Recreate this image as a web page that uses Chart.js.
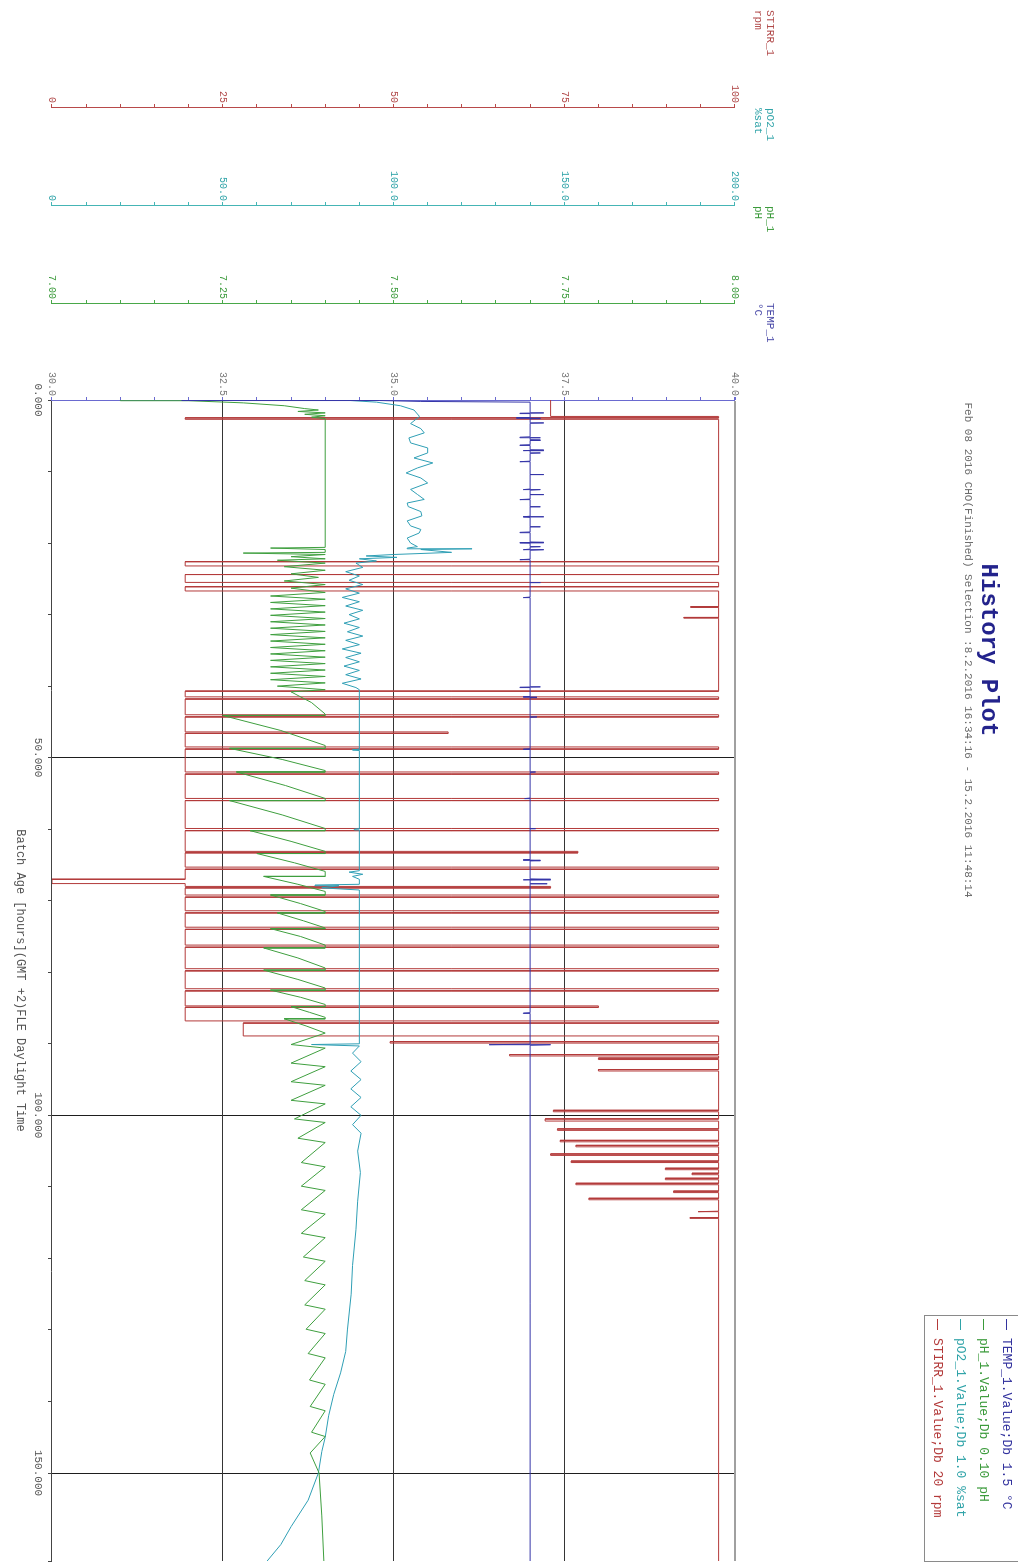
<!DOCTYPE html>
<html>
<head>
<meta charset="utf-8">
<title>History Plot</title>
<script src="https://cdn.jsdelivr.net/npm/chart.js@4.4.1/dist/chart.umd.min.js"></script>
<style>
  html, body { margin: 0; padding: 0; background: #fff; overflow: hidden; }
  /* chart is drawn landscape, then turned a quarter clockwise like the scan */
  #page {
    position: absolute; left: 0; top: 0;
    width: 1564px; height: 1018px;
    transform-origin: 0 0;
    transform: translateX(1018px) rotate(90deg);
    font-family: "Liberation Mono", "DejaVu Sans Mono", monospace;
    background: #fff;
  }
  #chart { position: absolute; left: 0; top: 0; }
  .title { position: absolute; left: 395px; width: 510px; text-align: center; white-space: nowrap; }
  #mainTitle { top: 16px; font-size: 24px; font-weight: bold; color: #23238c; }
  #subTitle { top: 44px; font-size: 11px; color: #6a6a6a; }
  .axname { position: absolute; top: 242px; font-size: 11px; line-height: 12px; white-space: nowrap; }
  #legend {
    position: absolute; left: 1315px; top: -1px; width: 247px; height: 95px;
    border: 1px solid #8a8a8a; font-size: 13px; box-sizing: border-box;
  }
  #legend div { height: 23px; line-height: 23px; white-space: nowrap; padding-left: 3px; }
  #legend span.dash { display: inline-block; width: 11px; height: 1px; vertical-align: middle; margin-right: 8px; }
</style>
</head>
<body>
<div id="page">
  <canvas id="chart" width="1564" height="1018"></canvas>
  <div class="title" id="mainTitle">History Plot</div>
  <div class="title" id="subTitle">Feb 08 2016 CHO(Finished) Selection :8.2.2016 16:34:16 - 15.2.2016 11:48:14</div>
  <div class="axname" style="left:10px;color:#b04848">STIRR_1<br>rpm</div>
  <div class="axname" style="left:108px;color:#2fa3a8">pO2_1<br>%sat</div>
  <div class="axname" style="left:206px;color:#3a9a3a">pH_1<br>pH</div>
  <div class="axname" style="left:303px;color:#4a4aa8">TEMP_1<br>°C</div>
  <div id="legend"></div>
</div>
<script>
// hours since batch start, value in the series unit
const tempPoints = [
  [0, 31.9], [0.05, 32.3], [0.1, 34.8], [0.2, 35.4], [0.3, 37.0],
  [1.75, 37.0], [1.8, 37.2], [1.85, 36.85], [1.9, 37.0],
  [2.45, 37.0], [2.5, 36.8], [2.55, 37.15], [2.6, 37.0],
  [3.15, 37.0], [3.2, 37.2], [3.25, 37.0],
  [5.15, 37.0], [5.2, 36.85], [5.25, 37.15], [5.3, 37.0],
  [5.55, 37.0], [5.6, 37.15], [5.65, 37.0],
  [6.25, 37.0], [6.3, 36.85], [6.35, 37.0],
  [6.95, 37.0], [7.0, 37.2], [7.05, 36.9], [7.1, 37.0],
  [7.35, 37.0], [7.4, 37.15], [7.45, 37.0],
  [8.55, 37.0], [8.6, 36.85], [8.65, 37.0],
  [10.35, 37.0], [10.4, 37.2], [10.45, 37.0],
  [12.45, 37.0], [12.5, 36.9], [12.55, 37.15], [12.6, 37.0],
  [13.15, 37.0], [13.2, 37.2], [13.25, 37.0],
  [13.85, 37.0], [13.9, 36.85], [13.95, 37.0],
  [14.85, 37.0], [14.9, 37.15], [14.95, 37.0],
  [16.25, 37.0], [16.3, 37.2], [16.35, 36.9], [16.4, 37.0],
  [17.65, 37.0], [17.7, 37.15], [17.75, 37.0],
  [18.45, 37.0], [18.5, 36.85], [18.55, 37.0],
  [19.85, 37.0], [19.9, 37.2], [19.95, 36.85], [20.0, 37.0],
  [20.45, 37.0], [20.5, 37.15], [20.55, 37.0],
  [20.85, 37.0], [20.9, 36.9], [20.95, 37.2], [21.0, 37.0],
  [22.25, 37.0], [22.3, 36.85], [22.35, 37.0],
  [25.45, 37.0], [25.5, 37.15], [25.55, 37.0],
  [27.55, 37.0], [27.6, 36.9], [27.65, 37.0],
  [40.05, 37.0], [40.1, 37.15], [40.15, 36.85], [40.2, 37.0],
  [41.45, 37.0], [41.5, 36.9], [41.55, 37.1], [41.6, 37.0],
  [44.25, 37.0], [44.3, 37.1], [44.35, 37.0],
  [48.75, 37.0], [48.8, 36.9], [48.85, 37.0],
  [51.95, 37.0], [52.0, 37.08], [52.05, 37.0],
  [55.65, 37.0], [55.7, 36.92], [55.75, 37.0],
  [59.85, 37.0], [59.9, 37.08], [59.95, 37.0],
  [64.25, 37.0], [64.3, 36.9], [64.35, 37.15], [64.4, 37.0],
  [66.95, 37.0], [67.0, 37.3], [67.05, 36.9], [67.1, 37.0],
  [67.55, 37.0], [67.6, 37.25], [67.65, 37.0],
  [85.65, 37.0], [85.7, 36.9], [85.75, 37.0],
  [90.05, 37.0], [90.1, 36.4], [90.15, 37.3], [90.2, 37.0],
  [162.3, 37.0]
];

const phPoints = [
  [0, 7.10], [0.1, 7.20], [0.4, 7.28], [0.8, 7.34], [1.2, 7.37], [1.4, 7.39], [1.6, 7.36],
  [1.8, 7.40], [2.0, 7.37], [2.2, 7.40], [2.4, 7.38], [2.6, 7.40],
  [20.6, 7.40], [20.7, 7.32], [20.9, 7.40], [21.3, 7.40], [21.4, 7.28], [21.6, 7.40],
  [21.9, 7.35], [22.2, 7.40], [22.4, 7.33], [22.8, 7.40], [23.3, 7.34], [23.8, 7.40],
  [24.3, 7.35], [24.8, 7.39], [25.3, 7.34], [25.8, 7.40], [26.3, 7.35], [26.9, 7.40],
  [27.4, 7.32], [27.85, 7.40], [28.3, 7.32], [28.75, 7.40], [29.2, 7.32], [29.65, 7.40],
  [30.1, 7.32], [30.55, 7.40], [31.0, 7.32], [31.45, 7.40], [31.9, 7.32], [32.35, 7.40],
  [32.8, 7.32], [33.25, 7.40], [33.7, 7.32], [34.15, 7.40], [34.6, 7.32], [35.05, 7.40],
  [35.5, 7.32], [35.95, 7.40], [36.4, 7.32], [36.85, 7.40], [37.3, 7.32], [37.75, 7.40],
  [38.2, 7.32], [38.65, 7.40], [39.1, 7.32], [39.55, 7.40], [40.0, 7.33], [40.5, 7.40],
  [40.8, 7.35], [42.3, 7.38], [43.9, 7.40],
  [44.1, 7.40], [44.1, 7.25], [46.2, 7.335], [48.3, 7.40],
  [48.7, 7.40], [48.7, 7.26], [50.25, 7.337], [51.8, 7.40],
  [52.0, 7.40], [52.0, 7.27], [53.9, 7.342], [55.7, 7.40],
  [56.0, 7.40], [56.0, 7.26], [58.0, 7.337], [59.9, 7.40],
  [60.2, 7.40], [60.2, 7.29], [61.7, 7.35], [63.1, 7.40],
  [63.4, 7.40], [63.4, 7.30], [64.7, 7.355], [65.9, 7.40],
  [66.6, 7.40], [66.6, 7.31], [67.7, 7.36], [68.7, 7.40],
  [69.2, 7.40], [69.2, 7.32], [70.4, 7.364], [71.5, 7.40],
  [71.7, 7.40], [71.7, 7.33], [72.8, 7.368], [73.8, 7.40],
  [73.9, 7.40], [73.9, 7.32], [75.0, 7.364], [76.2, 7.40],
  [76.6, 7.40], [76.6, 7.31], [78.0, 7.36], [79.4, 7.40],
  [79.7, 7.40], [79.7, 7.31], [81.0, 7.36], [82.2, 7.40],
  [82.5, 7.40], [82.5, 7.32], [83.5, 7.364], [84.5, 7.40],
  [84.8, 7.40], [84.8, 7.35], [85.6, 7.377], [86.3, 7.40],
  [86.5, 7.40], [86.5, 7.34], [87.5, 7.372], [88.5, 7.40],
  [90.1, 7.35], [90.6, 7.40], [92.7, 7.35], [93.2, 7.40], [95.3, 7.35], [95.8, 7.40],
  [97.9, 7.35], [98.4, 7.40], [100.5, 7.355], [101.0, 7.40], [103.2, 7.36], [103.8, 7.40],
  [106.6, 7.365], [107.2, 7.40], [109.9, 7.365], [110.5, 7.40], [113.2, 7.365], [113.8, 7.40],
  [116.5, 7.365], [117.1, 7.40], [119.8, 7.368], [120.4, 7.40], [123.1, 7.37], [123.7, 7.40],
  [126.5, 7.37], [127.1, 7.40], [129.9, 7.372], [130.5, 7.40], [133.3, 7.375], [133.9, 7.40],
  [137.0, 7.377], [137.6, 7.40], [140.7, 7.378], [141.3, 7.40], [144.3, 7.38], [144.9, 7.40],
  [147.2, 7.378], [150.0, 7.391], [156.0, 7.395], [162.3, 7.398]
];

const po2Points = [
  [0, 85], [0.3, 95], [0.8, 102], [1.4, 106], [2.3, 107.6], [3.3, 105], [4.0, 108], [4.6, 109],
  [5.3, 104.5], [6.0, 105], [6.7, 110], [7.4, 110], [8.1, 106], [8.8, 111.5], [9.5, 107],
  [10.2, 103.7], [10.9, 108], [11.6, 110], [12.5, 105], [13.2, 107], [13.9, 109], [14.4, 104],
  [14.9, 104.3], [15.6, 108], [16.2, 108.3], [16.9, 104], [17.6, 105], [18.1, 108], [18.6, 107.5],
  [19.3, 104], [20.0, 105], [20.5, 107], [20.7, 104], [20.8, 123], [20.9, 108], [21.3, 117],
  [21.6, 100], [21.8, 92], [22.0, 101], [22.2, 90], [22.5, 95], [22.8, 89],
  [23.4, 91], [24.0, 86], [24.6, 90], [25.2, 87], [25.8, 91], [26.4, 86], [27.0, 90], [27.6, 85],
  [28.2, 90], [28.8, 86], [29.4, 91], [30.0, 87], [30.6, 90], [31.2, 85.5], [31.8, 90],
  [32.4, 86.5], [33.0, 91], [33.6, 86], [34.2, 90], [34.8, 85], [35.4, 90.5], [36.0, 86],
  [36.6, 90], [37.2, 85.5], [37.8, 90], [38.4, 86], [39.0, 90.5], [39.6, 85], [40.2, 89], [40.5, 90],
  [48.8, 90], [48.9, 88], [49.0, 90], [59.9, 90], [60.0, 88.5], [60.1, 90],
  [65.8, 90], [66.0, 87], [66.3, 91], [66.6, 88], [67.0, 90], [67.7, 90], [67.8, 77], [67.9, 84],
  [68.2, 79], [68.5, 90], [90.0, 90], [90.1, 76], [90.3, 90],
  [91.3, 88], [92.5, 90.5], [93.8, 87.5], [95.0, 90.5], [96.3, 87.5], [97.5, 90.5], [98.8, 87.5],
  [100.0, 90.5], [101.3, 88], [102.5, 90.5], [105.0, 89.5], [108.0, 90.3], [112.0, 89.5],
  [116.0, 89], [121.0, 88], [125.0, 87.6], [130.0, 86.5], [133.0, 86], [136.0, 84.5],
  [139.0, 82.5], [142.0, 81], [145.0, 80], [147.0, 79], [150.0, 78], [153.8, 75], [157.5, 70],
  [160.0, 67], [162.3, 63]
];

const stirrPoints = [
  [0, 73], [2.3, 73], [2.3, 97.6], [2.5, 97.6], [2.5, 19.5], [2.7, 19.5], [2.7, 97.6],
  [22.6, 97.6], [22.6, 19.5], [23.2, 19.5], [23.2, 97.6],
  [24.4, 97.6], [24.4, 19.5], [25.5, 19.5], [25.5, 97.6],
  [26.1, 97.6], [26.1, 19.5], [26.7, 19.5], [26.7, 97.6],
  [28.9, 97.6], [28.9, 93.5], [29.0, 93.5], [29.0, 97.6],
  [30.4, 97.6], [30.4, 92.5], [30.5, 92.5], [30.5, 97.6],
  [40.7, 97.6], [40.7, 19.5],
  [41.5, 19.5], [41.5, 97.6], [41.8, 97.6], [41.8, 19.5],
  [44.0, 19.5], [44.0, 97.6], [44.3, 97.6], [44.3, 19.5],
  [46.4, 19.5], [46.4, 58], [46.6, 58], [46.6, 19.5],
  [48.5, 19.5], [48.5, 97.6], [48.8, 97.6], [48.8, 19.5],
  [52.0, 19.5], [52.0, 97.6], [52.3, 97.6], [52.3, 19.5],
  [55.7, 19.5], [55.7, 97.6], [56.0, 97.6], [56.0, 19.5],
  [59.9, 19.5], [59.9, 97.6], [60.2, 97.6], [60.2, 19.5],
  [63.1, 19.5], [63.1, 77], [63.3, 77], [63.3, 19.5],
  [65.3, 19.5], [65.3, 97.6], [65.6, 97.6], [65.6, 19.5],
  [67.0, 19.5], [67.0, 0], [67.6, 0], [67.6, 19.5],
  [68.0, 19.5], [68.0, 73], [68.2, 73], [68.2, 19.5],
  [69.2, 19.5], [69.2, 97.6], [69.5, 97.6], [69.5, 19.5],
  [71.4, 19.5], [71.4, 97.6], [71.7, 97.6], [71.7, 19.5],
  [73.7, 19.5], [73.7, 97.6], [74.0, 97.6], [74.0, 19.5],
  [76.2, 19.5], [76.2, 97.6], [76.5, 97.6], [76.5, 19.5],
  [79.5, 19.5], [79.5, 97.6], [79.8, 97.6], [79.8, 19.5],
  [82.3, 19.5], [82.3, 97.6], [82.6, 97.6], [82.6, 19.5],
  [84.7, 19.5], [84.7, 80], [84.9, 80], [84.9, 19.5],
  [86.8, 19.5], [86.8, 97.6], [87.1, 97.6], [87.1, 28],
  [88.9, 28], [88.9, 97.6],
  [89.7, 97.6], [89.7, 49.5], [89.9, 49.5], [89.9, 97.6],
  [91.5, 97.6], [91.5, 67], [91.7, 67], [91.7, 97.6],
  [92.0, 97.6], [92.0, 80], [92.2, 80], [92.2, 97.6],
  [93.6, 97.6], [93.6, 80], [93.8, 80], [93.8, 97.6],
  [99.3, 97.6], [99.3, 73.4], [99.5, 73.4], [99.5, 97.6],
  [100.5, 97.6], [100.5, 72.2], [100.8, 72.2], [100.8, 97.6],
  [101.9, 97.6], [101.9, 74], [102.1, 74], [102.1, 97.6],
  [103.5, 97.6], [103.5, 74.4], [103.7, 74.4], [103.7, 97.6],
  [104.2, 97.6], [104.2, 76.7], [104.4, 76.7], [104.4, 97.6],
  [105.4, 97.6], [105.4, 73], [105.6, 73], [105.6, 97.6],
  [106.4, 97.6], [106.4, 76], [106.6, 76], [106.6, 97.6],
  [107.4, 97.6], [107.4, 89.8], [107.6, 89.8], [107.6, 97.6],
  [108.1, 97.6], [108.1, 93.7], [108.3, 93.7], [108.3, 97.6],
  [108.8, 97.6], [108.8, 89.8], [109.0, 89.8], [109.0, 97.6],
  [109.5, 97.6], [109.5, 76.7], [109.7, 76.7], [109.7, 97.6],
  [110.6, 97.6], [110.6, 91], [110.8, 91], [110.8, 97.6],
  [111.6, 97.6], [111.6, 78.6], [111.8, 78.6], [111.8, 97.6],
  [113.4, 97.6], [113.4, 94.6], [113.5, 94.6], [113.5, 97.6],
  [114.3, 97.6], [114.3, 93.4], [114.4, 93.4], [114.4, 97.6],
  [162.3, 97.6]
];

const legendItems = [
  ['TEMP_1.Value;Db 1.5 °C', '#33339e'],
  ['pH_1.Value;Db 0.10 pH', '#3a9a3a'],
  ['pO2_1.Value;Db 1.0 %sat', '#2fa3a8'],
  ['STIRR_1.Value;Db 20 rpm', '#b33a3a']
];

const xy = arr => arr.map(p => ({ x: p[0], y: p[1] }));
const MONO = '"Liberation Mono", "DejaVu Sans Mono", monospace';

// legend box
const legendBox = document.getElementById('legend');
legendItems.forEach(it => {
  const row = document.createElement('div');
  row.style.color = it[1];
  const dash = document.createElement('span');
  dash.className = 'dash';
  dash.style.background = it[1];
  row.appendChild(dash);
  row.appendChild(document.createTextNode(it[0]));
  legendBox.appendChild(row);
});

// one stacked value axis on the left
function valueAxis(color, labelColor, min, max, step, weight, width, label) {
  return {
    type: 'linear', position: 'left', weight: weight,
    min: min, max: max,
    afterFit: s => { s.width = width; },
    border: { display: true, color: color, width: 1 },
    grid: { drawOnChartArea: false, drawTicks: true, tickLength: 3, color: color },
    ticks: {
      stepSize: step, autoSkip: false, padding: 1, color: labelColor,
      font: { family: MONO, size: 10 },
      callback: label
    }
  };
}

new Chart(document.getElementById('chart'), {
  type: 'line',
  data: {
    datasets: [
      { label: 'TEMP_1', data: xy(tempPoints), yAxisID: 'yTemp', borderColor: '#3535a8' },
      { label: 'pH_1', data: xy(phPoints), yAxisID: 'yPh', borderColor: '#3f9f3f' },
      { label: 'pO2_1', data: xy(po2Points), yAxisID: 'yPo2', borderColor: '#2f9fb5' },
      { label: 'STIRR_1', data: xy(stirrPoints), yAxisID: 'yStirr', borderColor: '#b33a3a' }
    ]
  },
  options: {
    responsive: false,
    animation: false,
    events: [],
    elements: {
      point: { radius: 0 },
      line: { borderWidth: 1, tension: 0 }
    },
    layout: { padding: { top: 283, left: 9, right: 0, bottom: 0 } },
    plugins: {
      legend: { display: false },
      title: { display: false },
      tooltip: { enabled: false }
    },
    scales: {
      x: {
        type: 'linear', position: 'bottom',
        min: 0, max: 162.3,
        afterFit: s => { s.height = 52; },
        border: { display: true, color: '#444', width: 1 },
        grid: {
          drawTicks: true, tickLength: 4, tickColor: '#444',
          color: c => (c.tick && [50, 100, 150].includes(c.tick.value)) ? '#1e1e1e' : 'rgba(0,0,0,0)'
        },
        ticks: {
          stepSize: 10, autoSkip: false, maxRotation: 0, padding: 3, color: '#555',
          font: { family: MONO, size: 11 },
          callback: v => (v % 50 === 0 ? v.toFixed(3) : '')
        },
        title: {
          display: true, text: 'Batch Age [hours](GMT +2)FLE Daylight Time', color: '#555',
          font: { family: MONO, size: 12 }, padding: { top: 0, bottom: 13 }
        }
      },
      yTemp: {
        type: 'linear', position: 'left', weight: 0,
        min: 30, max: 40,
        afterFit: s => { s.width = 97; },
        border: { display: true, color: '#6a6ad0', width: 1 },
        grid: {
          drawTicks: true, tickLength: 3, tickColor: '#6a6ad0',
          color: c => {
            const v = c.tick ? c.tick.value : null;
            if (v === 32.5 || v === 35 || v === 37.5) return '#353535';
            if (v === 40) return '#a0a0a0';
            return 'rgba(0,0,0,0)';
          },
          lineWidth: c => (c.tick && c.tick.value === 40 ? 2 : 1)
        },
        ticks: {
          stepSize: 0.5, autoSkip: false, padding: 1, color: '#777',
          font: { family: MONO, size: 10 },
          callback: v => (Math.round(v * 10) % 25 === 0 ? v.toFixed(1) : '')
        }
      },
      yPh: valueAxis('#49a849', '#3a9a3a', 7, 8, 0.05, 1, 98,
        v => (Math.round(v * 100) % 25 === 0 ? v.toFixed(2) : '')),
      yPo2: valueAxis('#45b5b5', '#2fa3a8', 0, 200, 10, 2, 98,
        v => (v === 0 ? '0' : (v % 50 === 0 ? v.toFixed(1) : ''))),
      yStirr: valueAxis('#b84a4a', '#b04848', 0, 100, 5, 3, 98,
        v => (v % 25 === 0 ? String(v) : ''))
    }
  }
});
</script>
</body>
</html>
